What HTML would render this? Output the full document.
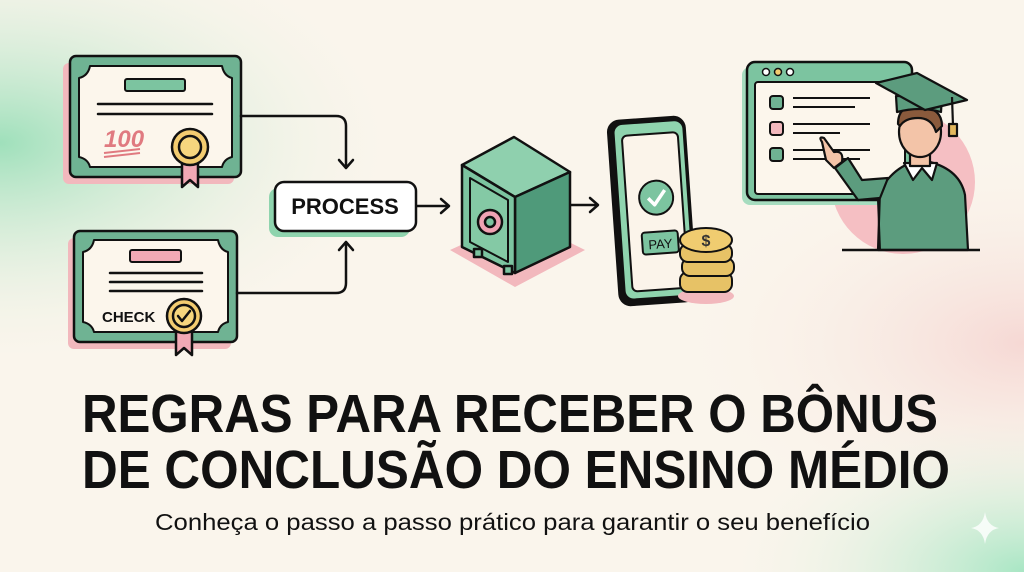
<!DOCTYPE html>
<html><head><meta charset="utf-8"><style>
html,body{margin:0;padding:0;width:1024px;height:572px;overflow:hidden;background:#faf5ec}
svg{display:block}
</style></head><body>
<svg width="1024" height="572" viewBox="0 0 1024 572" xmlns="http://www.w3.org/2000/svg" font-family="Liberation Sans, sans-serif">
<defs>
<radialGradient id="g1" cx="0" cy="0.25" r="0.4"><stop offset="0" stop-color="#9fe0bb"/><stop offset="1" stop-color="#faf5ec" stop-opacity="0"/></radialGradient>
<radialGradient id="g2" cx="1" cy="1" r="0.3"><stop offset="0" stop-color="#a8e6c4"/><stop offset="1" stop-color="#faf5ec" stop-opacity="0"/></radialGradient>
<radialGradient id="g3" cx="1" cy="0.6" r="0.35"><stop offset="0" stop-color="#f6d8d4"/><stop offset="1" stop-color="#faf5ec" stop-opacity="0"/></radialGradient>
</defs>
<rect width="1024" height="572" fill="#faf5ec"/>
<rect width="1024" height="572" fill="url(#g3)"/>
<rect width="1024" height="572" fill="url(#g1)"/>
<rect width="1024" height="572" fill="url(#g2)"/>

<g stroke="#111" stroke-width="2.5" stroke-linejoin="round" stroke-linecap="round">
<!-- cert1 -->
<rect x="63" y="63" width="171" height="121" rx="6" fill="#f2b8bd" stroke="none"/>
<rect x="70" y="56" width="171" height="121" rx="6" fill="#6fb393"/>
<path d="M90 66 H222 Q224 76 232 78 V157 Q224 159 222 167 H90 Q88 159 79 157 V78 Q88 76 90 66Z" fill="#fcf6ec" stroke-width="2"/>
<rect x="125" y="79" width="60" height="12" rx="2" fill="#7cc4a0" stroke-width="2"/>
<line x1="98" y1="104" x2="212" y2="104"/><line x1="98" y1="114" x2="212" y2="114"/>
<path d="M182 155 L182 187 L190 180 L198 187 L198 155Z" fill="#f2a9b5"/>
<circle cx="190" cy="147" r="18" fill="#f3cc70"/>
<circle cx="190" cy="147" r="11" fill="#f6d67e"/>
<!-- cert2 -->
<rect x="68" y="238" width="163" height="111" rx="6" fill="#f2b8bd" stroke="none"/>
<rect x="74" y="231" width="163" height="111" rx="6" fill="#6fb393"/>
<path d="M94 240 H218 Q220 250 228 252 V322 Q220 324 218 332 H94 Q92 324 83 322 V252 Q92 250 94 240Z" fill="#fcf6ec" stroke-width="2"/>
<rect x="130" y="250" width="51" height="12" rx="2" fill="#f2a9b5" stroke-width="2"/>
<line x1="110" y1="273" x2="202" y2="273"/><line x1="110" y1="282" x2="202" y2="282"/><line x1="110" y1="291" x2="202" y2="291"/>
<path d="M176 324 L176 355 L184 348 L192 355 L192 324Z" fill="#f2a9b5"/>
<circle cx="184" cy="316" r="17" fill="#f3cc70"/>
<circle cx="184" cy="316" r="11" fill="#f6d67e"/>
<path d="M178 316 L182 321 L190 311" fill="none"/>
</g>
<text x="104" y="147" font-size="24" font-style="italic" fill="#e07a80" font-weight="bold">100</text>
<line x1="104" y1="153" x2="140" y2="149" stroke="#e07a80" stroke-width="2"/>
<line x1="104" y1="157" x2="140" y2="153" stroke="#e07a80" stroke-width="2"/>
<text x="102" y="322" font-size="15" font-weight="bold" fill="#111">CHECK</text>

<!-- arrows -->
<g fill="none" stroke="#111" stroke-width="2.5" stroke-linecap="round" stroke-linejoin="round">
<path d="M241 116 H336 Q346 116 346 126 V167"/><path d="M339 160 L346 168 L353 160"/>
<path d="M237 293 H336 Q346 293 346 283 V243"/><path d="M339 250 L346 242 L353 250"/>
<path d="M417 206 H448"/><path d="M441 199 L449 206 L441 213"/>
<path d="M570 205 H597"/><path d="M590 198 L598 205 L590 212"/>
</g>
<!-- process -->
<rect x="269" y="188" width="141" height="49" rx="9" fill="#8fd4ae"/>
<rect x="275" y="182" width="141" height="49" rx="9" fill="#fff" stroke="#111" stroke-width="2.5"/>
<text x="345" y="214" font-size="22" font-weight="bold" text-anchor="middle" fill="#111">PROCESS</text>

<!-- safe -->
<polygon points="450,250 515,287 585,250 520,218" fill="#f2b8bd"/>
<g stroke="#111" stroke-width="2.5" stroke-linejoin="round">
<polygon points="462,165 514,137 570,172 515,197" fill="#8fd0ae"/>
<polygon points="515,197 570,172 570,247 515,273" fill="#4f9a7a"/>
<polygon points="462,165 515,197 515,273 462,247" fill="#7cc4a0"/>
<polygon points="470,178 508,200 508,262 470,242" fill="#84c9a5" stroke-width="2"/>
<circle cx="490" cy="222" r="12" fill="#f0a2b3"/><circle cx="490" cy="222" r="5" fill="#7cc4a0"/>
<rect x="474" y="249" width="8" height="8" fill="#7cc4a0"/><rect x="504" y="266" width="8" height="8" fill="#7cc4a0"/>
</g>

<!-- phone -->
<g transform="rotate(-4 652 210)" stroke="#111" stroke-linejoin="round">
<rect x="613" y="118" width="78" height="186" rx="12" fill="#111"/>
<rect x="619" y="122" width="70" height="176" rx="9" fill="#8fd4ae" stroke-width="2"/>
<rect x="627" y="134" width="56" height="156" rx="5" fill="#fbf4ea" stroke-width="2"/>
<circle cx="657" cy="198" r="17" fill="#7cc4a0" stroke-width="2"/>
<path d="M649 198 L655 205 L666 191" fill="none" stroke="#fff" stroke-width="3.5"/>
<rect x="640" y="232" width="36" height="22" rx="3" fill="#7cc4a0" stroke-width="2"/>
<text x="658" y="249" font-size="13" text-anchor="middle" fill="#111" stroke="none">PAY</text>
</g>
<!-- coins -->
<ellipse cx="706" cy="296" rx="28" ry="8" fill="#f2b8bd"/>
<g stroke="#111" stroke-width="2" fill="#e7c266">
<rect x="680" y="272" width="52" height="20" rx="8"/>
<rect x="682" y="258" width="52" height="18" rx="8"/>
<rect x="680" y="244" width="52" height="18" rx="8"/>
<ellipse cx="706" cy="240" rx="26" ry="12" fill="#f0cc70"/>
</g>
<text x="706" y="246" font-size="16" font-weight="bold" text-anchor="middle" fill="#333">$</text>

<!-- window -->
<circle cx="903" cy="182" r="72" fill="#f5bfc3"/>
<rect x="742" y="67" width="165" height="138" rx="8" fill="#a6dcbf"/>
<rect x="747" y="62" width="165" height="138" rx="8" fill="#7cc4a0" stroke="#111" stroke-width="2.5"/>
<rect x="755" y="82" width="150" height="112" rx="3" fill="#fcf6ec" stroke="#111" stroke-width="2"/>
<g fill="#f3cc70" stroke="#111" stroke-width="1.5"><circle cx="766" cy="72" r="3.5" fill="#fff"/><circle cx="778" cy="72" r="3.5"/><circle cx="790" cy="72" r="3.5" fill="#fff"/></g>
<g stroke="#111" stroke-width="2">
<rect x="770" y="96" width="13" height="13" rx="3" fill="#6fb393"/>
<rect x="770" y="122" width="13" height="13" rx="3" fill="#f2b8bd"/>
<rect x="770" y="148" width="13" height="13" rx="3" fill="#6fb393"/>
<line x1="793" y1="98" x2="870" y2="98"/><line x1="793" y1="107" x2="855" y2="107"/>
<line x1="793" y1="124" x2="870" y2="124"/><line x1="793" y1="133" x2="840" y2="133"/>
<line x1="793" y1="150" x2="870" y2="150"/><line x1="793" y1="159" x2="860" y2="159"/>
</g>
<!-- man -->
<g stroke="#111" stroke-width="2.2" stroke-linejoin="round">
<path d="M878 250 L880 190 Q895 166 915 162 L930 162 Q960 170 965 195 L968 250Z" fill="#5c9c7e"/>
<path d="M888 178 L880 198 L858 200 L835 168 L848 158 L862 180Z" fill="#5c9c7e"/>
<path d="M822 142 Q818 136 824 138 L834 152 Q844 150 842 162 L834 168 L826 160Z" fill="#f3c4a8"/>
<path d="M904 163 L913 180 L922 168 L932 180 L937 163Z" fill="#fff"/>
<rect x="910" y="146" width="20" height="20" fill="#f3c4a8"/>
<ellipse cx="920" cy="132" rx="21" ry="25" fill="#f3c4a8"/>
<path d="M898 124 Q898 104 920 106 Q942 108 942 126 L936 132 Q932 118 918 118 Q905 118 900 126Z" fill="#8a5a3c"/>
<path d="M897 112 L896 96 L942 96 L941 112 Q920 106 897 112Z" fill="#5c9c7e"/>
<polygon points="876,83 917,73 967,100 925,110" fill="#5c9c7e"/>
<line x1="952" y1="97" x2="953" y2="126"/>
<rect x="949" y="124" width="8" height="12" fill="#e3b85e"/>
</g>
<path d="M878 200 L880 250" stroke="#111" stroke-width="2" fill="none"/>
<line x1="842" y1="250" x2="980" y2="250" stroke="#111" stroke-width="2.5"/>

<!-- sparkle -->
<path d="M985 512 Q987 526 999 528 Q987 530 985 544 Q983 530 971 528 Q983 526 985 512Z" fill="#fff" opacity="0.8"/>

<!-- title -->
<text x="82" y="432" font-size="54" font-weight="bold" fill="#111" textLength="856" lengthAdjust="spacingAndGlyphs">REGRAS PARA RECEBER O BÔNUS</text>
<text x="82" y="488" font-size="54" font-weight="bold" fill="#111" textLength="868" lengthAdjust="spacingAndGlyphs">DE CONCLUSÃO DO ENSINO MÉDIO</text>
<text x="155" y="530" font-size="23" fill="#111" textLength="715" lengthAdjust="spacingAndGlyphs">Conheça o passo a passo prático para garantir o seu benefício</text>
</svg>
</body></html>
